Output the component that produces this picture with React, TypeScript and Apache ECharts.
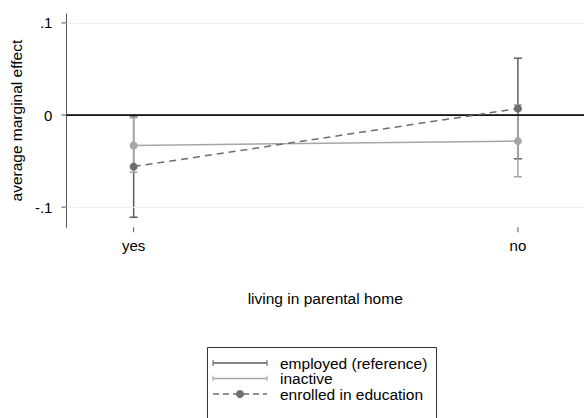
import React, { useEffect, useRef } from "react";
import * as echarts from "echarts";

const categories = ["yes", "no"];
const seriesNames = ["employed (reference)", "inactive", "enrolled in education"];
const inactiveEst = [-0.033, -0.0283];
const inactiveLo = [-0.062, -0.067];
const inactiveHi = [-0.003, 0.011];
const enrolledEst = [-0.056, 0.007];
const enrolledLo = [-0.111, -0.0475];
const enrolledHi = [-0.001, 0.0617];
const yTicks = [-0.1, 0, 0.1];
const yTickLabels = ["-.1", "0", ".1"];

const DARK = "#5e5e5e";
const LIGHT = "#a6a6a6";
const DASH = "#6e6e6e";
const AXIS = "#555";
const FONT = "'Liberation Sans', Arial, sans-serif";
const FS = 15.5;
const X_MIN = 0.825, X_MAX = 2.172, Y_MIN = -0.1219, Y_MAX = 0.1097;

export default function App() {
  const ref = useRef<HTMLDivElement>(null);
  useEffect(() => {
    if (!ref.current) return;
    const chart = echarts.init(ref.current, null, { renderer: "svg" });
    const xs = categories.map((_, i) => i + 1);
    const errSeries = (name: string, lo: number[], hi: number[], color: string, z: number) => ({
      name,
      type: "custom",
      z,
      data: xs.map((x, i) => [x, lo[i], hi[i]]),
      encode: { x: 0, y: [1, 2] },
      renderItem: (params: any, api: any) => {
        const x = api.value(0);
        const p1 = api.coord([x, api.value(1)]);
        const p2 = api.coord([x, api.value(2)]);
        const w = 4;
        const st = { stroke: color, lineWidth: 1.5 };
        return {
          type: "group",
          children: [
            { type: "line", shape: { x1: p1[0], y1: p1[1], x2: p2[0], y2: p2[1] }, style: st },
            { type: "line", shape: { x1: p1[0] - w, y1: p1[1], x2: p1[0] + w, y2: p1[1] }, style: st },
            { type: "line", shape: { x1: p2[0] - w, y1: p2[1], x2: p2[0] + w, y2: p2[1] }, style: st },
          ],
        };
      },
    });
    // axis ticks, placed through the axes' scales
    const tickData = [
      ...xs.map((x) => [0, x]),
      ...yTicks.map((y) => [1, y]),
    ];
    const tickSeries = {
      type: "custom",
      z: 6,
      clip: false,
      silent: true,
      data: tickData,
      encode: { x: -1, y: -1 },
      renderItem: (params: any, api: any) => {
        const kind = api.value(0);
        const v = api.value(1);
        const st = { stroke: AXIS, lineWidth: 1 };
        if (kind === 0) {
          const p = api.coord([v, Y_MIN]);
          return { type: "line", shape: { x1: p[0], y1: p[1], x2: p[0], y2: p[1] + 5 }, style: st };
        }
        const p = api.coord([X_MIN, v]);
        return { type: "line", shape: { x1: p[0], y1: p[1], x2: p[0] - 5, y2: p[1] }, style: st };
      },
    };
    const legX1 = 213, legX2 = 267, textX = 280;
    const rows = [363, 378.5, 394];
    const capLine = (y: number, color: string) => [
      { type: "line", shape: { x1: legX1, y1: y, x2: legX2, y2: y }, style: { stroke: color, lineWidth: 1.3 } },
      { type: "line", shape: { x1: legX1, y1: y - 3, x2: legX1, y2: y + 3 }, style: { stroke: color, lineWidth: 1 } },
      { type: "line", shape: { x1: legX2, y1: y - 3, x2: legX2, y2: y + 3 }, style: { stroke: color, lineWidth: 1 } },
    ];
    const legendGraphics: any[] = [
      { type: "rect", shape: { x: 207.5, y: 347.5, width: 229, height: 90 }, style: { fill: "#fff", stroke: "#333", lineWidth: 1 } },
      ...capLine(rows[0], DARK),
      ...capLine(rows[1], LIGHT),
      { type: "line", shape: { x1: legX1, y1: rows[2], x2: legX2, y2: rows[2] }, style: { stroke: DASH, lineWidth: 1.3, lineDash: [6, 4] } },
      { type: "circle", shape: { cx: 240, cy: rows[2], r: 4 }, style: { fill: DASH } },
      ...seriesNames.map((n, i) => ({
        type: "text",
        x: textX,
        y: rows[i],
        style: { text: n, fill: "#000", font: `${FS}px ${FONT}`, verticalAlign: "middle", align: "left" },
      })),
    ];
    chart.setOption({
      animation: false,
      backgroundColor: "#fff",
      grid: { left: 60, right: 0, top: 14, bottom: 190.7, containLabel: false },
      xAxis: {
        type: "value",
        min: X_MIN,
        max: X_MAX,
        name: "living in parental home",
        nameLocation: "middle",
        nameGap: 63,
        nameTextStyle: { color: "#000", fontSize: FS, fontFamily: FONT },
        axisLine: { show: true, lineStyle: { color: AXIS, width: 1 } },
        axisTick: { show: false },
        axisLabel: {
          customValues: xs,
          formatter: (v: number) => categories[Math.round(v) - 1] ?? "",
          color: "#000",
          fontSize: 15,
          fontFamily: FONT,
          margin: 11,
        },
        splitLine: { show: false },
      },
      yAxis: {
        type: "value",
        min: Y_MIN,
        max: Y_MAX,
        name: "average marginal effect",
        nameLocation: "middle",
        nameRotate: 90,
        nameGap: 38,
        nameTextStyle: { color: "#000", fontSize: FS, fontFamily: FONT },
        axisLine: { show: true, lineStyle: { color: AXIS, width: 1 } },
        axisTick: { show: false },
        axisLabel: {
          customValues: yTicks,
          formatter: (v: number) => {
            const i = yTicks.findIndex((t) => Math.abs(t - v) < 1e-9);
            return i >= 0 ? yTickLabels[i] : "";
          },
          color: "#000",
          fontSize: 15,
          fontFamily: FONT,
          margin: 14,
        },
        splitLine: { show: false },
      },
      series: [
        {
          type: "line",
          data: [],
          z: 1,
          markLine: {
            silent: true,
            symbol: "none",
            label: { show: false },
            data: [
              { yAxis: 0.1, lineStyle: { color: "#eaf2f3", width: 1, type: "solid" } },
              { yAxis: -0.1, lineStyle: { color: "#eaf2f3", width: 1, type: "solid" } },
              { yAxis: 0, lineStyle: { color: "#000", width: 1.5, type: "solid" } },
            ],
          },
        },
        errSeries(seriesNames[2] + " ci", enrolledLo, enrolledHi, DARK, 2),
        errSeries(seriesNames[1] + " ci", inactiveLo, inactiveHi, LIGHT, 3),
        {
          name: seriesNames[1],
          type: "line",
          z: 4,
          data: xs.map((x, i) => [x, inactiveEst[i]]),
          symbol: "circle",
          symbolSize: 8,
          itemStyle: { color: LIGHT },
          lineStyle: { color: LIGHT, width: 1.5 },
        },
        {
          name: seriesNames[2],
          type: "line",
          z: 5,
          data: xs.map((x, i) => [x, enrolledEst[i]]),
          symbol: "circle",
          symbolSize: 8,
          itemStyle: { color: DASH },
          lineStyle: { color: DASH, width: 1.5, type: [7, 5] },
        },
        tickSeries,
      ],
      graphic: legendGraphics,
    });
    return () => chart.dispose();
  }, []);
  return <div ref={ref} style={{ position: "fixed", left: 0, top: 0, width: 584, height: 418 }} />;
}
